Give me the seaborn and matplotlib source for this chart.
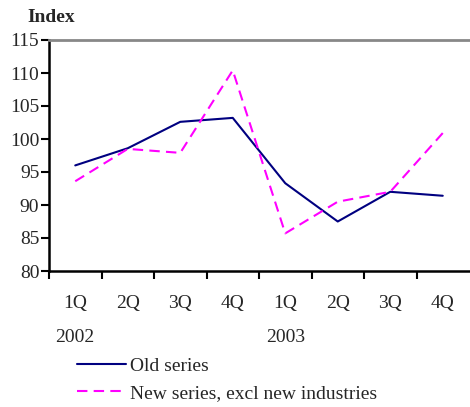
import pandas as pd
import seaborn as sns
import matplotlib.pyplot as plt
from matplotlib.transforms import blended_transform_factory

# Data
quarters = ["1Q", "2Q", "3Q", "4Q", "1Q", "2Q", "3Q", "4Q"]
years = ["2002", "", "", "", "2003", "", "", ""]
old_series = [96.0, 98.6, 102.6, 103.2, 93.3, 87.5, 92.0, 91.4]
new_series = [93.6, 98.5, 97.9, 110.4, 85.7, 90.5, 92.0, 100.9]
series_names = ["Old series", "New series, excl new industries"]

df = pd.DataFrame({
    "pos": list(range(len(quarters))) * 2,
    "value": old_series + new_series,
    "series": [series_names[0]] * len(old_series) + [series_names[1]] * len(new_series),
})

sns.set_style("white")
plt.rcParams["font.family"] = ["Liberation Serif", "DejaVu Serif"]
fs = 14

fig = plt.figure(figsize=(4.7, 4.07), dpi=100)
ax = fig.add_axes([49 / 470, 1 - 271 / 407, 420 / 470, 231 / 407])

sns.lineplot(
    data=df, x="pos", y="value", hue="series", style="series",
    palette={series_names[0]: "#000080", series_names[1]: "#FF00FF"},
    dashes={series_names[0]: "", series_names[1]: (5, 3)},
    linewidth=1.5, ax=ax, legend=True,
)

ax.set_xlim(-0.5, len(quarters) - 0.5)
ax.set_ylim(80, 115)
ax.set_yticks(range(80, 116, 5))
ax.set_xticks([i - 0.5 for i in range(len(quarters))])
ax.set_xticklabels([])
ax.set_xticks(range(len(quarters)), minor=True)
ax.set_xticklabels(quarters, minor=True)
ax.tick_params(axis="x", which="major", bottom=True, length=6, width=1.5, color="black", direction="out")
ax.tick_params(axis="x", which="minor", bottom=True, length=0, pad=17, labelsize=fs)
ax.tick_params(axis="y", left=True, length=6, width=1.5, color="black", direction="out", labelsize=fs, pad=1)
ax.set_xlabel("")
ax.set_ylabel("")

for s in ["left", "bottom"]:
    ax.spines[s].set_color("black")
    ax.spines[s].set_linewidth(1.8)
ax.spines["top"].set_color("#888888")
ax.spines["top"].set_linewidth(2)
ax.spines["right"].set_visible(False)

trans = blended_transform_factory(ax.transData, fig.transFigure)
for i, yr in enumerate(years):
    if yr:
        ax.text(i, 1 - 338 / 407, yr, transform=trans, ha="center", va="center", fontsize=fs)

fig.text(27 / 470, 1 - 18 / 407, "Index", fontsize=fs, fontweight="bold", va="center", ha="left")

handles, labels = ax.get_legend_handles_labels()
ax.legend(handles, labels, loc="upper left", bbox_to_anchor=(77 / 470, 1 - 357 / 407),
          bbox_transform=fig.transFigure, frameon=False, fontsize=fs,
          handlelength=2.5, handletextpad=0.2, labelspacing=0.5, borderpad=0,
          borderaxespad=0)

fig.savefig("out.png", dpi=100)
